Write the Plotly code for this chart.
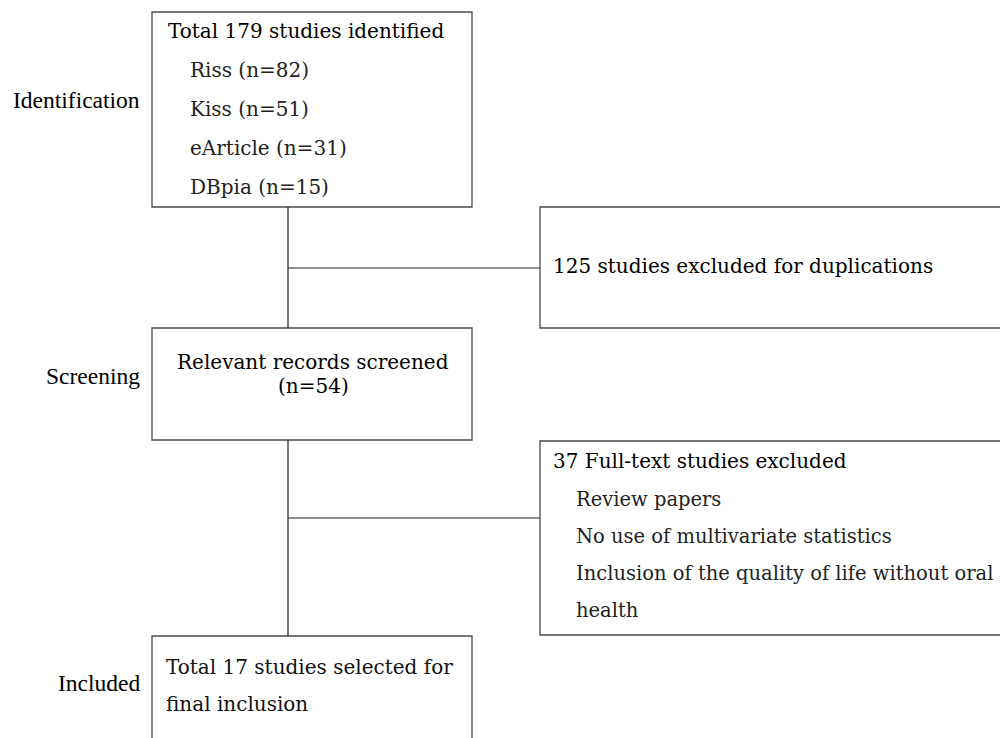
import plotly.graph_objects as go

# ---- content ----
stage_labels = ["Identification", "Screening", "Included"]
box1_header = "Total 179 studies identified"
box1_items = ["Riss (n=82)", "Kiss (n=51)", "eArticle (n=31)", "DBpia (n=15)"]
box2_text = "125 studies excluded for duplications"
box3_lines = ["Relevant records screened", "(n=54)"]
box4_header = "37 Full-text studies excluded"
box4_items = ["Review papers", "No use of multivariate statistics",
              "Inclusion of the quality of life without oral", "health"]
box5_lines = ["Total 17 studies selected for", "final inclusion"]

W, H = 1008, 738
OFF = 8  # page body margin compensation
BOX_FONT = "DejaVu Serif"
LABEL_FONT = "Liberation Serif"
line_col = "#4a4a4a"

fig = go.Figure()
shapes = []

def rect(x0, y0, x1, y1):
    shapes.append(dict(type="rect", xref="x", yref="y", x0=x0, y0=y0, x1=x1, y1=y1,
                       line=dict(color=line_col, width=1.3), fillcolor="rgba(0,0,0,0)"))

def seg(x0, y0, x1, y1):
    shapes.append(dict(type="line", xref="x", yref="y", x0=x0, y0=y0, x1=x1, y1=y1,
                       line=dict(color="#222222", width=1.2)))

rect(152, 12, 472, 207)
rect(540, 207, 1060, 328)
rect(152, 328, 472, 440)
rect(540, 441, 1060, 635)
rect(152, 636, 472, 800)
seg(288, 207, 288, 328)
seg(288, 268, 540, 268)
seg(288, 440, 288, 636)
seg(288, 518, 540, 518)

ann = []
def txt(x, y, s, size=20, font=BOX_FONT, anchor="left", color="#111111"):
    ann.append(dict(x=x, y=y, xref="x", yref="y", text=s, showarrow=False,
                    xanchor=anchor, yanchor="middle",
                    font=dict(family=font, size=size, color=color)))

# stage labels
for lab, yy in zip(stage_labels, [100, 376, 683]):
    txt(142, yy, lab, size=23.5, font=LABEL_FONT, anchor="right", color="#000000")

txt(166, 31, box1_header, color="#000000")
for i, s in enumerate(box1_items):
    txt(188, 70 + 39 * i, s, color="#222222")
txt(551, 266, box2_text, color="#000000")
txt(313, 362, box3_lines[0], anchor="center", color="#000000")
txt(313, 386, box3_lines[1], anchor="center", color="#000000")
txt(551, 461, box4_header, color="#000000")
for i, s in enumerate(box4_items):
    txt(574, 499 + 37 * i, s, size=19.5, color="#222222")
txt(164, 667, box5_lines[0], color="#111111")
txt(164, 704, box5_lines[1], color="#111111")

fig.update_layout(
    width=W, height=H, margin=dict(l=0, r=0, t=0, b=0),
    paper_bgcolor="white", plot_bgcolor="white",
    xaxis=dict(range=[OFF, W + OFF], visible=False, fixedrange=True),
    yaxis=dict(range=[H + OFF, OFF], visible=False, fixedrange=True),
    shapes=shapes, annotations=ann, showlegend=False,
)
fig.write_html("out.html", config={"displayModeBar": False})
